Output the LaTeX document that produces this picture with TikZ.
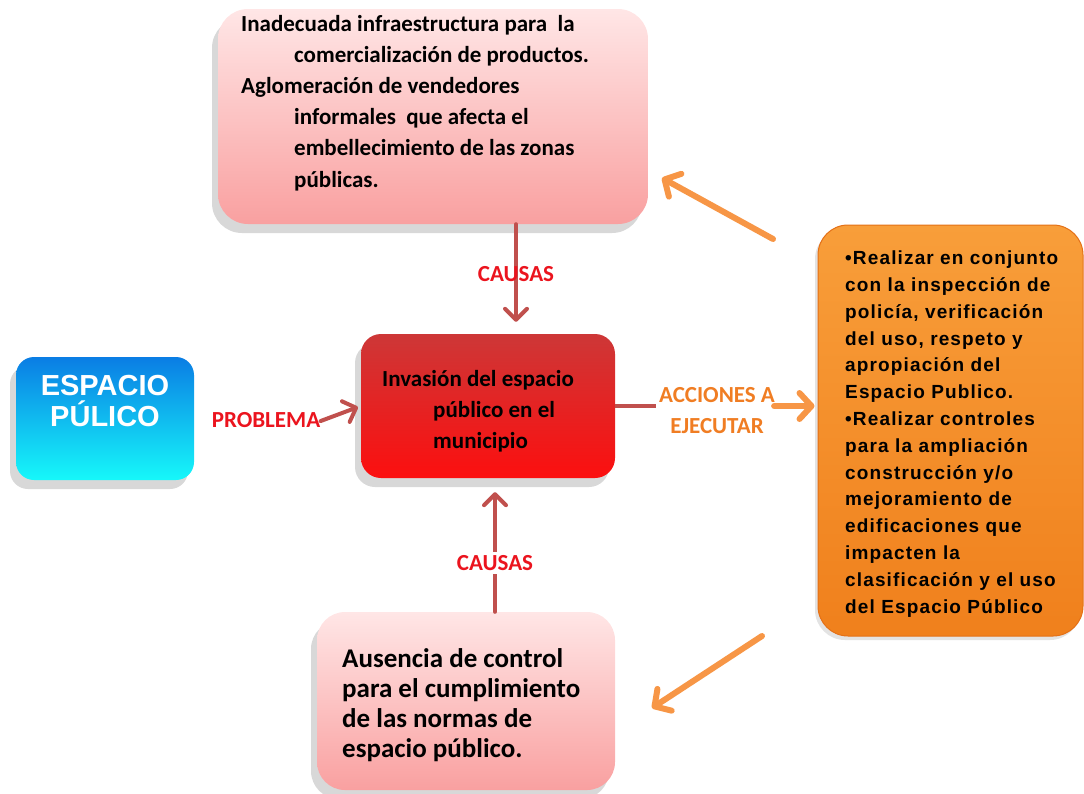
\documentclass[tikz,border=0pt]{standalone}
\usepackage{fontspec}
\setmainfont{Carlito}
\newfontfamily\arialf{Liberation Sans}
\newfontfamily\arialsp[LetterSpace=6]{Liberation Sans}
\usetikzlibrary{arrows.meta,shadows}
\definecolor{pinkT}{RGB}{255,230,230}
\definecolor{pinkB}{RGB}{249,160,160}
\definecolor{redT}{RGB}{205,55,55}
\definecolor{redB}{RGB}{252,15,15}
\definecolor{blueT}{RGB}{10,125,228}
\definecolor{blueB}{RGB}{22,248,250}
\definecolor{orT}{RGB}{248,158,58}
\definecolor{orB}{RGB}{240,128,28}
\definecolor{orEdge}{RGB}{228,112,22}
\definecolor{brownA}{RGB}{192,80,77}
\definecolor{orA}{RGB}{247,150,70}
\definecolor{lblRed}{RGB}{235,20,30}
\definecolor{lblOr}{RGB}{240,125,35}
\pgfdeclarelayer{fg}
\pgfsetlayers{main,fg}
\begin{document}
\begin{tikzpicture}[x=1pt,y=-1pt,
  box/.style={rounded corners=#1, inner sep=0pt, draw=none,
    drop shadow={shadow xshift=-6pt, shadow yshift=-9pt, opacity=0.22, fill=black!70}},
  txt/.style={align=left, inner sep=0pt, anchor=base west},
  lbl/.style={inner sep=3pt, font=\bfseries\fontsize{23}{31}\selectfont},
  brownArr/.style={draw=brownA, line width=4pt, line cap=round,
    -{Straight Barb[length=11pt,width=22pt,round]}},
  orArr/.style={draw=orA, line width=6pt, line cap=round,
    -{Straight Barb[length=12pt,width=26pt,round]}}
]
\useasboundingbox (0,0) rectangle (1084,793);

% boxes
\node[box=30pt, minimum width=430pt, minimum height=215pt,
  top color=pinkT, bottom color=pinkB] (top) at (433,116.5) {};
\node[box=28pt, minimum width=298pt, minimum height=178pt,
  top color=pinkT, bottom color=pinkB] (bot) at (466,701) {};
\node[box=20pt, minimum width=254pt, minimum height=144pt,
  top color=redT, bottom color=redB] (red) at (488,406) {};
\node[box=18pt, minimum width=178pt, minimum height=123pt,
  top color=blueT, bottom color=blueB] (blue) at (105,418.5) {};
\node[rounded corners=30pt, inner sep=0pt, minimum width=265pt, minimum height=411pt,
  top color=orT, bottom color=orB, draw=orEdge, line width=1pt,
  drop shadow={shadow xshift=-3pt, shadow yshift=-4pt, opacity=0.18, fill=black!60}]
  (orange) at (950.5,430.5) {};

% texts (anchored at the baseline of the last line)
\node[txt, font=\bfseries\fontsize{23}{31.2}\selectfont] (topT) at (241,187)
  {Inadecuada infraestructura para\ \ la\\
   \hspace*{53pt}comercialización de productos.\\
   Aglomeración de vendedores\\
   \hspace*{53pt}informales\ \ que afecta el\\
   \hspace*{53pt}embellecimiento de las zonas\\
   \hspace*{53pt}públicas.};
\node[txt, font=\bfseries\fontsize{23}{31}\selectfont] (redT) at (382,448)
  {Invasión del espacio\\
   \hspace*{51pt}público en el\\
   \hspace*{51pt}municipio};
\node[txt, font=\bfseries\fontsize{27}{29.7}\selectfont] (botT) at (342,757)
  {Ausencia de control\\
   para el cumplimiento\\
   de las normas de\\
   espacio público.};
\node[txt, font=\arialsp\bfseries\fontsize{19}{26.8}\selectfont] (orT) at (845,613)
  {•Realizar en conjunto\\
   con la inspección de\\
   policía, verificación\\
   del uso, respeto y\\
   apropiación del\\
   Espacio Publico.\\
   •Realizar controles\\
   para la ampliación\\
   construcción y/o\\
   mejoramiento de\\
   edificaciones que\\
   impacten la\\
   clasificación y el uso\\
   del Espacio Público};
\node[align=center, inner sep=0pt, text=white,
  font=\arialf\bfseries\fontsize{29}{31}\selectfont] (blueT) at (105,401)
  {ESPACIO\\PÚLICO};

% labels
\begin{pgfonlayer}{fg}
\node[lbl, text=lblRed] (prob) at (266,420) {PROBLEMA};
\node[lbl, text=lblRed] (c1) at (516,274) {CAUSAS};
\node[lbl, text=lblRed, fill=white] (c2) at (495,563) {CAUSAS};
\node[lbl, text=lblOr, align=center] (acc) at (717,411) {ACCIONES A\\EJECUTAR};
\end{pgfonlayer}

% connectors
\draw[brownArr, shorten >=12pt] (c1 |- top.south) -- (c1 |- red.north);
\draw[brownArr, shorten >=14pt] (c2 |- bot.north) -- (c2 |- red.south);
\draw[brownArr, shorten <=-3pt, shorten >=3pt] (prob.east) -- (red.west);
\draw[draw=brownA, line width=4pt] (red.east) -- (red.east -| acc.west);
\draw[orArr, shorten <=-4pt, shorten >=3pt] (acc.east |- red.east) -- (orange.west |- red.east);

\coordinate (oa1s) at (773,239);
\coordinate (oa1e) at (662,178);
\coordinate (oa2s) at (762,636);
\coordinate (oa2e) at (652,708);
\draw[orArr] (oa1s) -- (oa1e);
\draw[orArr] (oa2s) -- (oa2e);
\end{tikzpicture}
\end{document}
